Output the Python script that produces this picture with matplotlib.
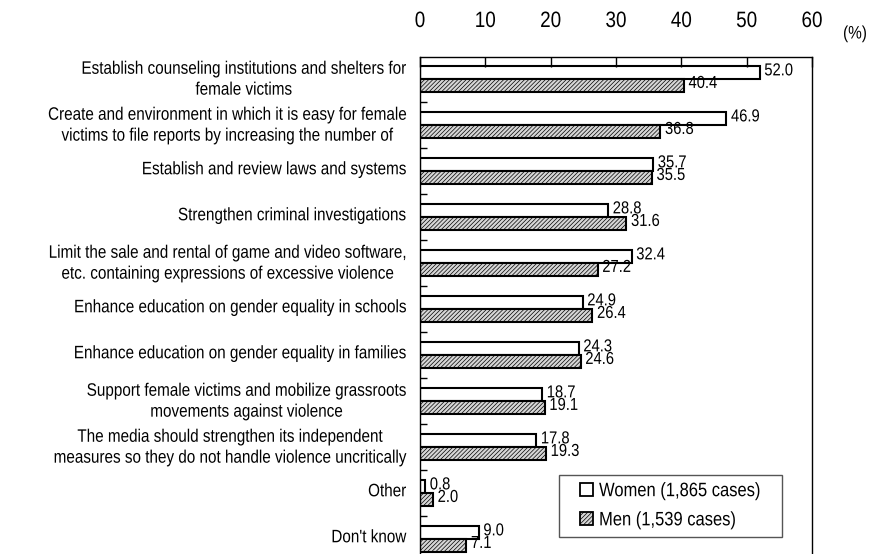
import matplotlib
matplotlib.use("Agg")
import matplotlib.pyplot as plt
import numpy as np
from matplotlib.patches import Patch, Rectangle
from matplotlib.patheffects import AbstractPathEffect
from matplotlib.transforms import Affine2D

plt.rcParams['font.family'] = ['Liberation Sans', 'DejaVu Sans']
plt.rcParams['hatch.color'] = '#8a8a8a'
plt.rcParams['hatch.linewidth'] = 0.5


class Narrow(AbstractPathEffect):
    """Draw a text condensed horizontally, keeping its aligned edge in place."""

    def __init__(self, text, sx=0.85):
        super().__init__()
        self.text = text
        self.sx = sx

    def draw_path(self, renderer, gc, tpath, affine, rgbFace=None):
        bb = self.text.get_window_extent(renderer)
        ha = self.text.get_horizontalalignment()
        if ha == 'right':
            px = bb.x1
        elif ha == 'left':
            px = bb.x0
        else:
            px = 0.5 * (bb.x0 + bb.x1)
        t = affine + Affine2D().translate(-px, 0).scale(self.sx, 1).translate(px, 0)
        renderer.draw_path(gc, tpath, t, rgbFace)


def narrow(texts, sx=0.85):
    for t in texts:
        t.set_path_effects([Narrow(t, sx)])


categories = [
    "Establish counseling institutions and shelters for\nfemale victims",
    "Create and environment in which it is easy for female\nvictims to file reports by increasing the number of",
    "Establish and review laws and systems",
    "Strengthen criminal investigations",
    "Limit the sale and rental of game and video software,\netc. containing expressions of excessive violence",
    "Enhance education on gender equality in schools",
    "Enhance education on gender equality in families",
    "Support female victims and mobilize grassroots\nmovements against violence",
    "The media should strengthen its independent\nmeasures so they do not handle violence uncritically",
    "Other",
    "Don't know",
]
women = [52.0, 46.9, 35.7, 28.8, 32.4, 24.9, 24.3, 18.7, 17.8, 0.8, 9.0]
men = [40.4, 36.8, 35.5, 31.6, 27.2, 26.4, 24.6, 19.1, 19.3, 2.0, 7.1]
xticks = [0, 10, 20, 30, 40, 50, 60]
legend_labels = ["Women (1,865 cases)", "Men (1,539 cases)"]

W, H = 870, 554
fig = plt.figure(figsize=(W / 100, H / 100), dpi=100)
ax = fig.add_axes([420 / W, 0.0, 392 / W, 497 / H])

men_face = '#d6d6d6'
y = np.arange(len(categories))
h = 0.293
ax.barh(y - h / 2, women, height=h, color='white', edgecolor='black', linewidth=1.5)
ax.barh(y + h / 2, men, height=h, color=men_face, edgecolor='black', linewidth=1.5,
        hatch='////////')

value_texts = []
for yi, w, m in zip(y, women, men):
    value_texts.append(ax.text(w + 0.7, yi - h / 2 - 0.03, f"{w:.1f}",
                               ha='left', va='center', fontsize=12.5))
    value_texts.append(ax.text(m + 0.7, yi + h / 2 - 0.05, f"{m:.1f}",
                               ha='left', va='center', fontsize=12.5))
narrow(value_texts, 0.85)

ax.set_xlim(0, 60)
ax.set_ylim(10.326, -0.478)
ax.xaxis.tick_top()
ax.set_xticks(xticks)
ax.tick_params(axis='x', direction='in', length=7, width=1, pad=18, labelsize=16)

ax.set_yticks(y - 0.07)
ax.set_yticklabels(categories, fontsize=13, multialignment='center', linespacing=1.3)
ax.tick_params(axis='y', which='major', length=0, pad=10)
ax.set_yticks(y[:-1] + 0.5, minor=True)
ax.tick_params(axis='y', which='minor', direction='in', length=5, width=1)
narrow(ax.xaxis.get_ticklabels(), 0.85)
narrow(ax.yaxis.get_ticklabels(), 0.845)

for s in ax.spines.values():
    s.set_linewidth(1.0)
ax.spines['bottom'].set_visible(False)

pct = fig.text(855 / W, 1 - 34 / H, "(%)", ha='center', va='center', fontsize=13)
narrow([pct], 0.85)

# legend frame drawn separately so the horizontal padding can be wider
x0, x1, yt, yb = 559, 782, 475, 537
fig.patches.append(Rectangle((x0 / W, 1 - yb / H), (x1 - x0) / W, (yb - yt) / H,
                             transform=fig.transFigure, facecolor='white',
                             edgecolor='#555555', linewidth=1.0, zorder=3))
handles = [Patch(facecolor='white', edgecolor='black', linewidth=1.3),
           Patch(facecolor=men_face, edgecolor='black', linewidth=1.3, hatch='////////')]
leg = fig.legend(handles, legend_labels, loc='center left',
                 bbox_to_anchor=(580 / W, 1 - (yt + yb) / 2 / H),
                 fontsize=14, frameon=False,
                 handlelength=0.68, handleheight=0.68, handletextpad=0.3,
                 borderpad=0.0, labelspacing=0.6, borderaxespad=0)
leg.set_zorder(4)
narrow(leg.get_texts(), 0.85)

fig.savefig("out.png", dpi=100)
